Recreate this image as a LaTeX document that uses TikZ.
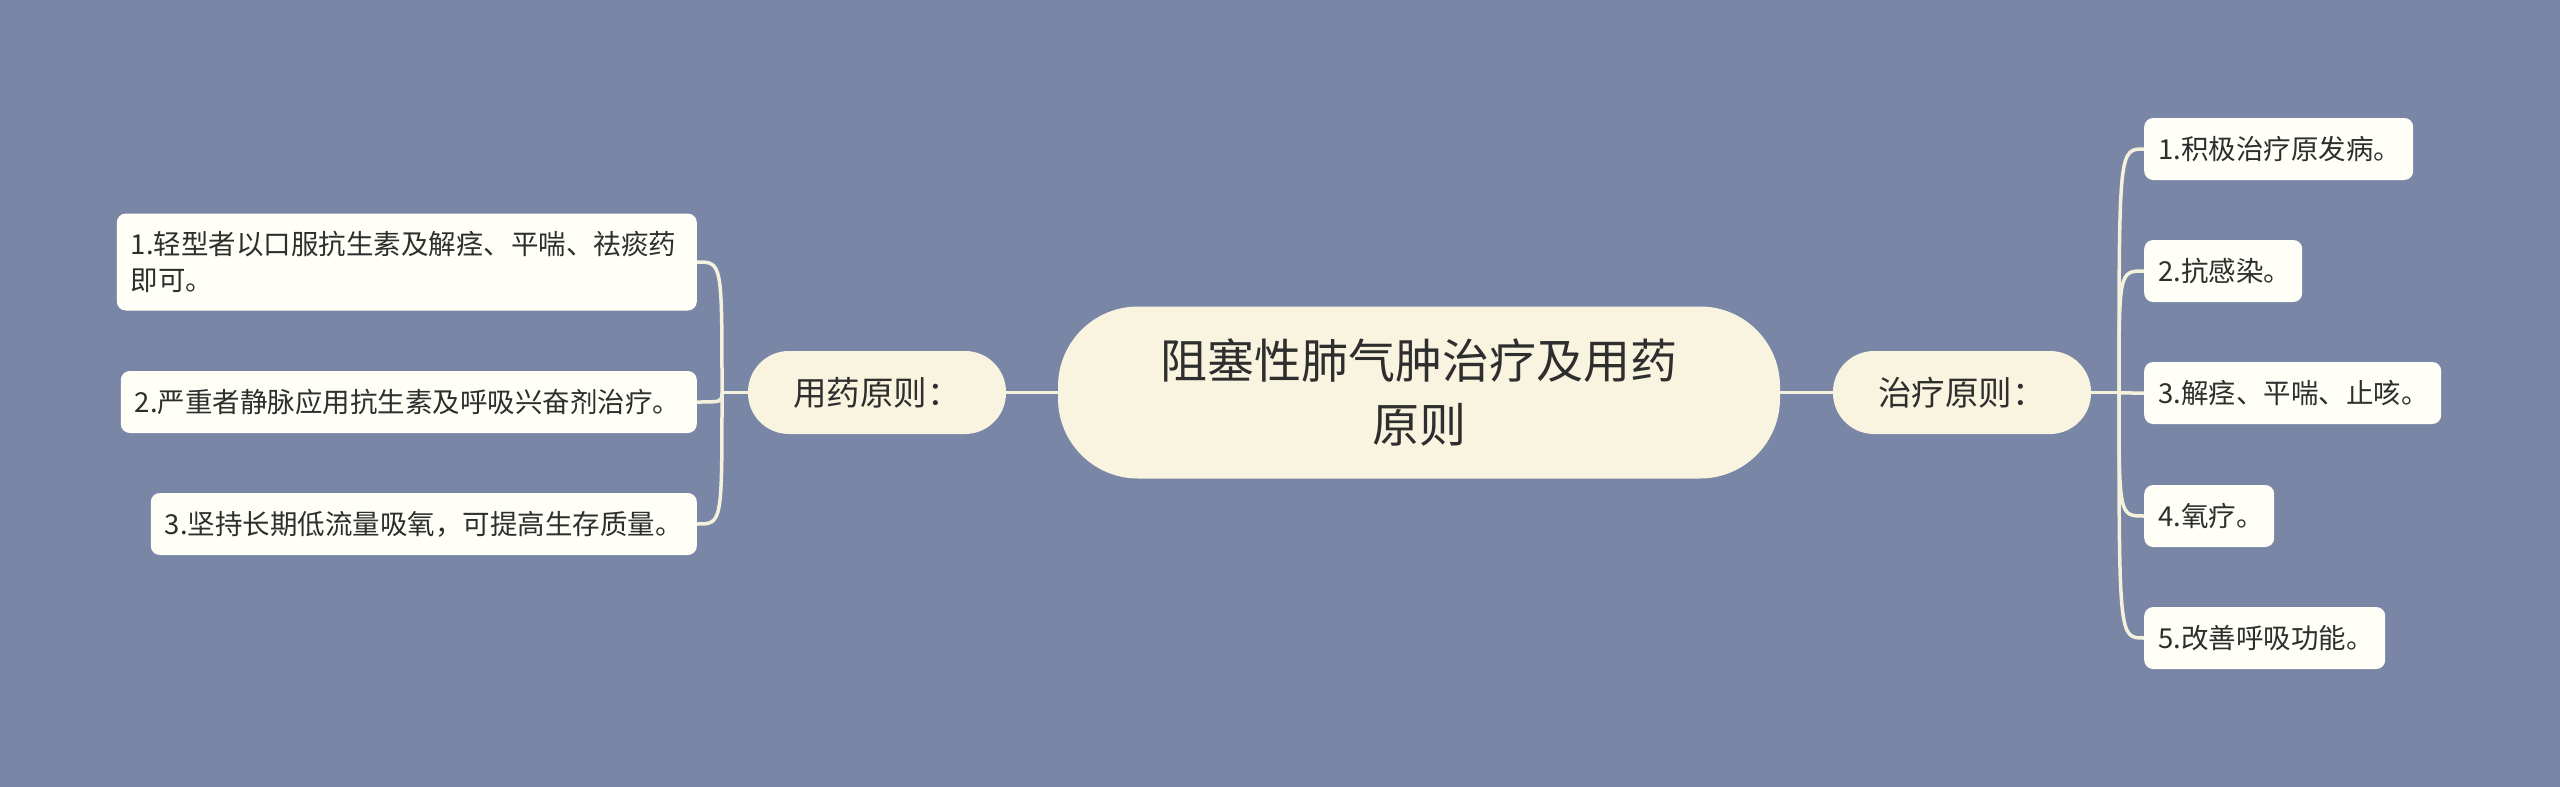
\documentclass[tikz,border=0pt]{standalone}
\usepackage{fontspec}
\setmainfont{Noto Sans CJK SC}
\definecolor{bgc}{HTML}{7986A6}
\definecolor{creamc}{HTML}{F8F4E0}
\definecolor{leafc}{HTML}{FFFFF8}
\definecolor{linec}{HTML}{F4F1DD}
\definecolor{txtc}{HTML}{2E2E2E}
\begin{document}
\begin{tikzpicture}[x=1pt,y=-1pt,
  centernode/.style={fill=creamc, rounded corners=80pt, minimum width=722pt, minimum height=172pt, align=center, text=txtc, font=\fontsize{47}{64}\selectfont, inner sep=0pt},
  parentnode/.style={fill=creamc, rounded corners=41pt, minimum width=258pt, minimum height=83pt, text=txtc, font=\fontsize{33.5}{38}\selectfont, inner sep=0pt},
  leafnode/.style={fill=leafc, rounded corners=9pt, minimum height=62pt, inner xsep=14pt, inner ysep=0pt, align=left, text=txtc, font=\fontsize{27.5}{36}\selectfont},
  conn/.style={draw=linec, line width=3.5pt}]
\fill[bgc] (0,0) rectangle (2560,787);
\useasboundingbox (0,0) rectangle (2560,787);

\node[centernode] (c) at (1419,392.5) {阻塞性肺气肿治疗及用药\\原则};
\node[parentnode] (lp) at (877,392.5) {用药原则：};
\node[parentnode] (rp) at (1962,392.5) {治疗原则：};

\coordinate (lb) at (722,392.5);
\coordinate (rb) at (2119,392.5);

\node[leafnode, anchor=west, text width=241pt] (r1) at (2144,149) {1.积极治疗原发病。};
\node[leafnode, anchor=west, text width=130pt] (r2) at (2144,271) {2.抗感染。};
\node[leafnode, anchor=west, text width=269pt] (r3) at (2144,393) {3.解痉、平喘、止咳。};
\node[leafnode, anchor=west, text width=102pt] (r4) at (2144,516) {4.氧疗。};
\node[leafnode, anchor=west, text width=213pt] (r5) at (2144,638) {5.改善呼吸功能。};

\node[leafnode, anchor=east, text width=552pt, minimum height=97pt] (l1) at (697,262) {1.轻型者以口服抗生素及解痉、平喘、祛痰药\\即可。};
\node[leafnode, anchor=east, text width=548pt] (l2) at (697,402) {2.严重者静脉应用抗生素及呼吸兴奋剂治疗。};
\node[leafnode, anchor=east, text width=518pt] (l3) at (697,524) {3.坚持长期低流量吸氧，可提高生存质量。};

\draw[conn] (c.west) -- (lp.east);
\draw[conn] (c.east) -- (rp.west);
\draw[conn] (lp.west) -- (lb);
\draw[conn] (rp.east) -- (rb);

\foreach \n in {r1,r2,r3,r4,r5}
  \draw[conn] (rb) .. controls (rb |- \n.west) and (rb |- \n.west) .. (\n.west);
\foreach \n in {l1,l2,l3}
  \draw[conn] (lb) .. controls (lb |- \n.east) and (lb |- \n.east) .. (\n.east);
\end{tikzpicture}
\end{document}
